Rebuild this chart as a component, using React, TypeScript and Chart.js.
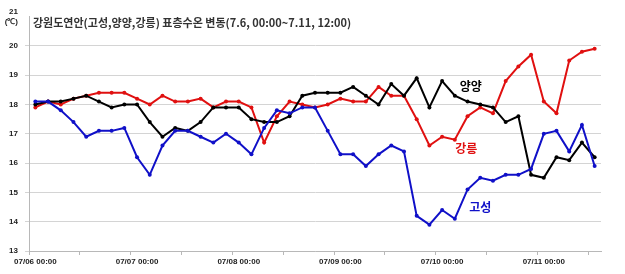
import React, { useEffect, useRef } from 'react';
import { Chart, registerables } from 'chart.js';
Chart.register(...registerables);

const TITLE = '강원도연안(고성,양양,강릉) 표층수온 변동(7.6, 00:00~7.11, 12:00)';
const DAY_LABELS = ['07/06 00:00', '07/07 00:00', '07/08 00:00', '07/09 00:00', '07/10 00:00', '07/11 00:00'];
const POINT_COUNT = 45;
const CATEGORIES: string[] = Array.from({ length: POINT_COUNT }, (_, i) => {
  const d = 6 + Math.floor((i * 3) / 24);
  const h = (i * 3) % 24;
  return `07/${String(d).padStart(2, '0')} ${String(h).padStart(2, '0')}:00`;
});

const GOSEONG = [
  18.1, 18.1, 17.8, 17.4, 16.9, 17.1, 17.1, 17.2, 16.2, 15.6,
  16.6, 17.1, 17.1, 16.9, 16.7, 17.0, 16.7, 16.3, 17.2, 17.8,
  17.7, 17.9, 17.9, 17.1, 16.3, 16.3, 15.9, 16.3, 16.6, 16.4,
  14.2, 13.9, 14.4, 14.1, 15.1, 15.5, 15.4, 15.6, 15.6, 15.8,
  17.0, 17.1, 16.4, 17.3, 15.9,
];
const YANGYANG = [
  18.0, 18.1, 18.1, 18.2, 18.3, 18.1, 17.9, 18.0, 18.0, 17.4,
  16.9, 17.2, 17.1, 17.4, 17.9, 17.9, 17.9, 17.5, 17.4, 17.4,
  17.6, 18.3, 18.4, 18.4, 18.4, 18.6, 18.3, 18.0, 18.7, 18.3,
  18.9, 17.9, 18.8, 18.3, 18.1, 18.0, 17.9, 17.4, 17.6, 15.6,
  15.5, 16.2, 16.1, 16.7, 16.2,
];
const GANGNEUNG = [
  17.9, 18.1, 18.0, 18.2, 18.3, 18.4, 18.4, 18.4, 18.2, 18.0,
  18.3, 18.1, 18.1, 18.2, 17.9, 18.1, 18.1, 17.9, 16.7, 17.6,
  18.1, 18.0, 17.9, 18.0, 18.2, 18.1, 18.1, 18.6, 18.3, 18.3,
  17.5, 16.6, 16.9, 16.8, 17.6, 17.9, 17.7, 18.8, 19.3, 19.7,
  18.1, 17.7, 19.5, 19.8, 19.9,
];

const SERIES = [
  { name: '고성', data: GOSEONG, color: '#1010c8', labelAt: [35.0, 14.5] },
  { name: '양양', data: YANGYANG, color: '#000000', labelAt: [34.25, 18.6] },
  { name: '강릉', data: GANGNEUNG, color: '#e01010', labelAt: [33.9, 16.5] },
];

const Y_MIN = 13;
const Y_MAX = 21;
const KR_FONT = '"Noto Sans CJK KR", "Noto Sans", sans-serif';

const overlayPlugin = {
  id: 'overlay',
  afterDatasetsDraw(chart: any) {
    const { ctx, chartArea, scales } = chart;
    ctx.save();
    ctx.font = `bold 11px ${KR_FONT}`;
    ctx.fillStyle = '#333333';
    ctx.textBaseline = 'middle';
    ctx.textAlign = 'left';
    ctx.fillText(TITLE, chartArea.left + 4, chartArea.top + 6);
    ctx.font = `bold 12px ${KR_FONT}`;
    ctx.textAlign = 'center';
    for (const s of SERIES) {
      const x = scales.x.getPixelForValue(s.labelAt[0]);
      const y = scales.y.getPixelForValue(s.labelAt[1]);
      ctx.fillStyle = s.color;
      ctx.fillText(s.name, x, y);
    }
    ctx.restore();
  },
};

export default function App() {
  const ref = useRef<HTMLCanvasElement | null>(null);
  useEffect(() => {
    document.body.style.margin = '0';
    if (!ref.current) return;
    Chart.defaults.font.family = '"Liberation Sans", Arial, sans-serif';
    const chart = new Chart(ref.current, {
      type: 'line',
      data: {
        labels: CATEGORIES,
        datasets: SERIES.map((s) => ({
          label: s.name,
          data: s.data,
          borderColor: s.color,
          backgroundColor: s.color,
          borderWidth: 2,
          pointRadius: 2,
          pointBorderWidth: 0,
          pointBackgroundColor: s.color,
          tension: 0,
        })),
      },
      options: {
        animation: false,
        responsive: false,
        maintainAspectRatio: false,
        layout: { padding: { top: 10, right: 24, left: 0, bottom: 0 } },
        plugins: { legend: { display: false }, tooltip: { enabled: false }, title: { display: false } },
        scales: {
          x: {
            type: 'category',
            offset: true,
            afterFit: (s: any) => { s.height = 23; },
            border: { display: true, color: '#b8b8b8', width: 1 },
            grid: {
              offset: true,
              drawOnChartArea: false,
              drawTicks: true,
              tickLength: 4,
              color: (c: any) => (typeof c.index === 'number' && c.index % 4 === 0 ? '#b8b8b8' : 'rgba(0,0,0,0)'),
            },
            ticks: {
              autoSkip: false,
              maxRotation: 0,
              padding: 2,
              color: '#222',
              font: { size: 8, weight: 'bold' },
              callback: (_v: any, i: number) => (i % 8 === 0 ? DAY_LABELS[i / 8] : ''),
            },
          },
          y: {
            min: Y_MIN,
            max: Y_MAX,
            afterFit: (s: any) => { s.width = 29; },
            border: { display: true, color: '#b8b8b8', width: 1 },
            grid: {
              drawTicks: true,
              tickLength: 4,
              color: (c: any) => (c.tick && c.tick.value === Y_MAX ? 'rgba(0,0,0,0)' : '#d4d4d4'),
            },
            ticks: {
              stepSize: 1,
              padding: 7,
              color: '#222',
              font: { size: 8, weight: 'bold' },
              callback: (v: any) => (v === Y_MAX ? [String(v), '(℃)'] : String(v)),
            },
          },
        },
      },
      plugins: [overlayPlugin],
    } as any);
    return () => chart.destroy();
  }, []);
  return (
    <div style={{ width: 625, height: 274, position: 'relative' }}>
      <canvas ref={ref} width={625} height={274} style={{ width: 625, height: 274, display: 'block' }} />
    </div>
  );
}
